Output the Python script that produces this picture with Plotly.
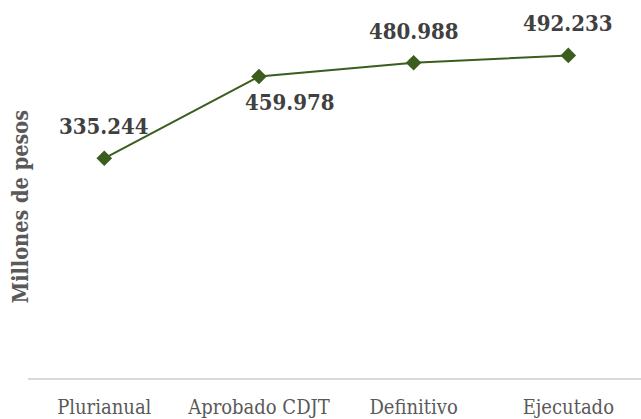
import plotly.graph_objects as go

categories = ["Plurianual", "Aprobado CDJT", "Definitivo", "Ejecutado"]
values = [335.244, 459.978, 480.988, 492.233]
labels = ["335.244", "459.978", "480.988", "492.233"]
label_pos = ["above", "below-right", "above", "above"]

line_color = "#3B5E1F"
text_color = "#404040"
axis_text = "#595959"
serif = "DejaVu Serif Condensed, DejaVu Serif, serif"

fig = go.Figure()
fig.add_trace(go.Scatter(
    x=categories, y=values, mode="lines+markers",
    line=dict(color=line_color, width=2),
    marker=dict(symbol="diamond", size=12, color=line_color),
    hoverinfo="skip", showlegend=False,
))

for c, v, t, p in zip(categories, values, labels, label_pos):
    if p == "above":
        xs, ys = 0, 32
    else:
        xs, ys = 31, -25
    fig.add_annotation(x=c, y=v, text="<b>%s</b>" % t, showarrow=False,
                       xshift=xs, yshift=ys, xanchor="center", yanchor="middle",
                       font=dict(family=serif, size=22, color=text_color))

fig.add_annotation(xref="paper", yref="paper", x=-0.013, y=0.468,
                   text="<b>Millones de pesos</b>", textangle=-90, showarrow=False,
                   xanchor="center", yanchor="middle",
                   font=dict(family=serif, size=21.5, color=axis_text))

fig.update_layout(
    width=641, height=419,
    margin=dict(l=28, r=0, t=11, b=36),
    paper_bgcolor="white", plot_bgcolor="white",
    xaxis=dict(type="category", range=[-0.493, 3.47], showgrid=False,
               showline=True, linecolor="#D9D9D9", linewidth=1.5,
               ticks="", tickfont=dict(family=serif, size=20, color=axis_text),
               ticklabelstandoff=10),
    yaxis=dict(range=[0, 560], showgrid=False, showline=False, zeroline=False,
               showticklabels=False, ticks=""),
)

fig.write_html("out.html", config={"displayModeBar": False},
               post_script="document.body.style.margin='0';document.body.style.padding='0';")
